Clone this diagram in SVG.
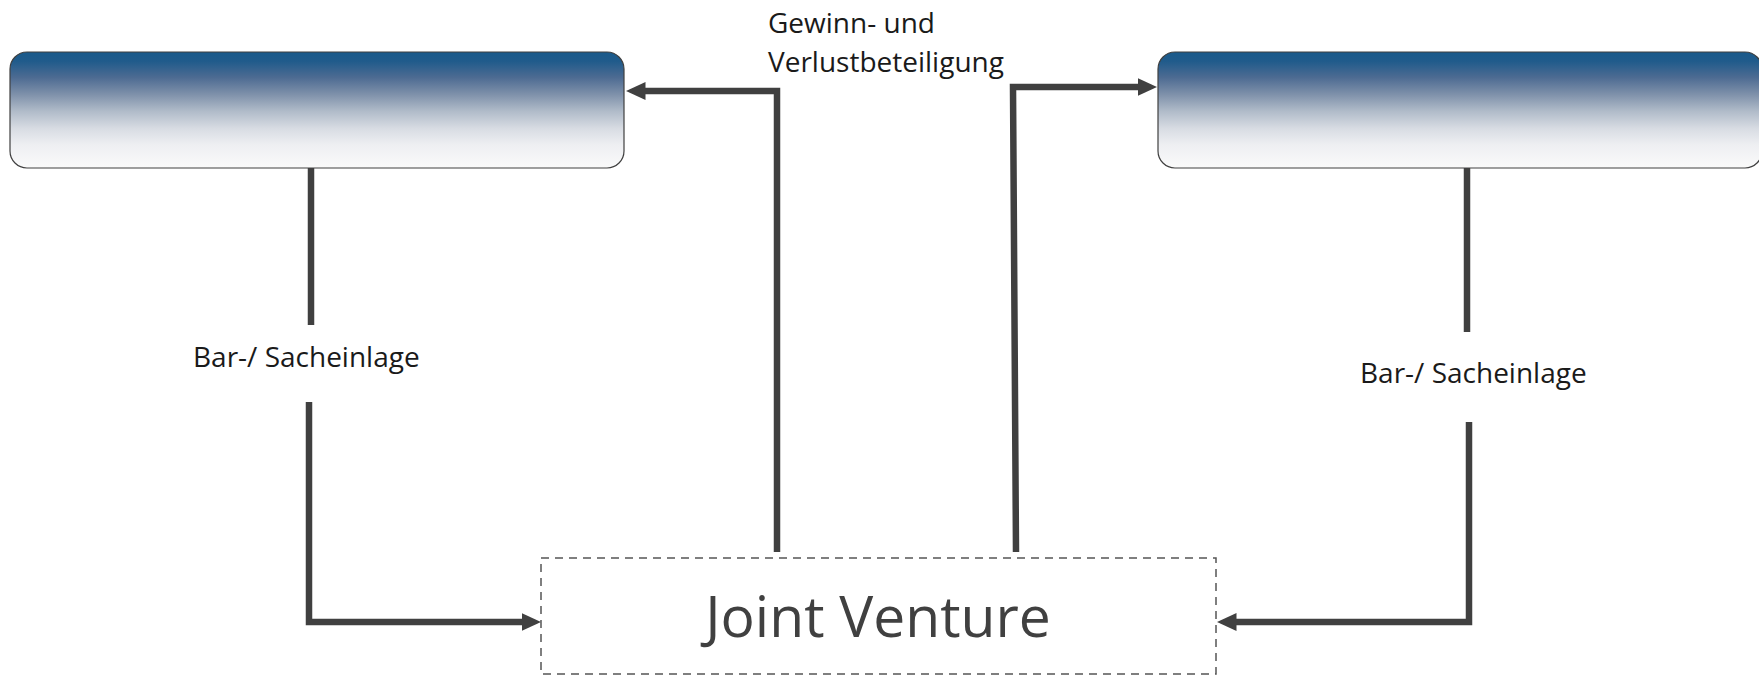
<svg xmlns="http://www.w3.org/2000/svg" width="1759" height="675" viewBox="0 0 1759 675">
<style>
.lbl{font-family:"Open Sans","Noto Sans",sans-serif;font-size:28px;fill:#1a1a1a}
.jv{font-family:"Open Sans","Noto Sans",sans-serif;font-size:57px;fill:#404040}
.party{fill:url(#grad);stroke:#404040;stroke-width:1.2}
.conn{fill:none;stroke:#404040;stroke-width:6.5;stroke-linejoin:miter}
</style>
<defs>
<linearGradient id="grad" x1="0" y1="0" x2="0" y2="1">
<stop offset="0" stop-color="#1a5a8b"/>
<stop offset="0.08" stop-color="#205b8b"/>
<stop offset="0.22" stop-color="#4d6b92"/>
<stop offset="0.37" stop-color="#8092ab"/>
<stop offset="0.51" stop-color="#b0bbc9"/>
<stop offset="0.66" stop-color="#d8dce3"/>
<stop offset="0.8" stop-color="#eeeff2"/>
<stop offset="1" stop-color="#fafafa"/>
</linearGradient>
<marker id="arr" markerWidth="4" markerHeight="4" refX="1" refY="2" orient="auto" markerUnits="strokeWidth" viewBox="0 0 4 4">
<path d="M0,0.6 L3,2 L0,3.4 Z" fill="#404040"/>
</marker>
</defs>
<g id="partner-left">
<rect class="party" x="10" y="52" width="614" height="116" rx="17" ry="17"/>
</g>
<g id="partner-right">
<rect class="party" x="1158" y="52" width="604" height="116" rx="17" ry="17"/>
</g>
<g id="joint-venture">
<rect x="541" y="558" width="675" height="116" fill="#ffffff" stroke="#555555" stroke-width="1.5" stroke-dasharray="8,6"/>
<text class="jv" x="878" y="637" text-anchor="middle">Joint Venture</text>
</g>
<g id="connectors">
<path class="conn" d="M311,168 V325"/>
<path class="conn" d="M309,402 V622 H528" marker-end="url(#arr)"/>
<path class="conn" d="M1467,168 V332"/>
<path class="conn" d="M1469,422 V622 H1230" marker-end="url(#arr)"/>
<path class="conn" d="M777,552 V91 H639" marker-end="url(#arr)"/>
<path class="conn" d="M1016,552 L1013,87 H1144" marker-end="url(#arr)"/>
</g>
<g id="labels">
<text class="lbl" x="768" y="33">Gewinn- und</text>
<text class="lbl" x="768" y="72">Verlustbeteiligung</text>
<text class="lbl" x="193" y="367">Bar-/ Sacheinlage</text>
<text class="lbl" x="1360" y="383">Bar-/ Sacheinlage</text>
</g>
</svg>
